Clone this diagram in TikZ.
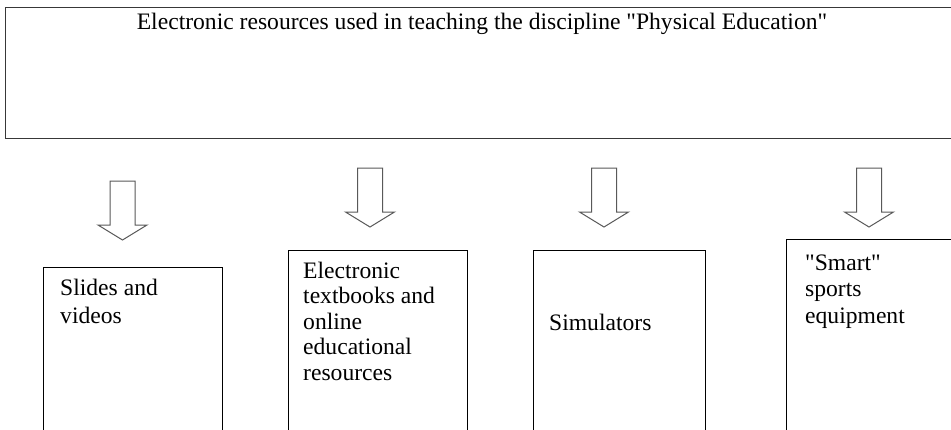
\documentclass[tikz,border=0pt]{standalone}
\usepackage{fontspec}
\setmainfont{Liberation Serif}[Ligatures=TeXOff]
\begin{document}
\begin{tikzpicture}[x=1pt,y=-1pt,
  topbox/.style={draw=black!78, line width=1.4pt, inner sep=0pt, anchor=north west},
  itembox/.style={draw=black, line width=1pt, inner sep=0pt, anchor=north west},
  lbl/.style={inner sep=0pt, anchor=base west, align=left, font=\fontsize{23.6}{25.5}\selectfont},
  arrowline/.style={draw=black!65, line width=1pt, line join=miter},
  downarr/.pic={\draw[arrowline] (-12.5,0) -- (-12.5,44) -- (-24.5,44) -- (0,59) -- (24.5,44) -- (12.5,44) -- (12.5,0) -- cycle;}
]
\useasboundingbox (0,0) rectangle (951,429);
\clip (0,0) rectangle (951,429);
\fill[white] (0,0) rectangle (951,429);

% top box
\node[topbox, minimum width=955pt, minimum height=131pt] (top) at (5,7) {};
\node[inner sep=0pt, anchor=base, font=\fontsize{23.6}{26}\selectfont] (title) at (482,29)
  {Electronic resources used in teaching the discipline "Physical Education"};

% arrows
\coordinate (a1) at (122.5,181);
\coordinate (a2) at (370,168);
\coordinate (a3) at (604,168);
\coordinate (a4) at (869,168);
\pic at (a1) {downarr};
\pic at (a2) {downarr};
\pic at (a3) {downarr};
\pic at (a4) {downarr};

% item boxes
\node[itembox, minimum width=179pt, minimum height=200pt] (b1) at (43,267) {};
\node[itembox, minimum width=179pt, minimum height=220pt] (b2) at (288,250) {};
\node[itembox, minimum width=172pt, minimum height=220pt] (b3) at (533,250) {};
\node[itembox, minimum width=200pt, minimum height=230pt] (b4) at (786,239) {};

% texts (base anchor = baseline of last line)
\node[lbl, font=\fontsize{23.6}{28.5}\selectfont] (t1) at (60,323.5) {Slides and\\videos};
\node[lbl] (t2) at (303,380) {Electronic\\textbooks and\\online\\educational\\resources};
\node[lbl] (t3) at (549,330) {Simulators};
\node[lbl, font=\fontsize{23.6}{26.5}\selectfont] (t4) at (805,323) {"Smart"\\sports\\equipment};
\end{tikzpicture}
\end{document}
